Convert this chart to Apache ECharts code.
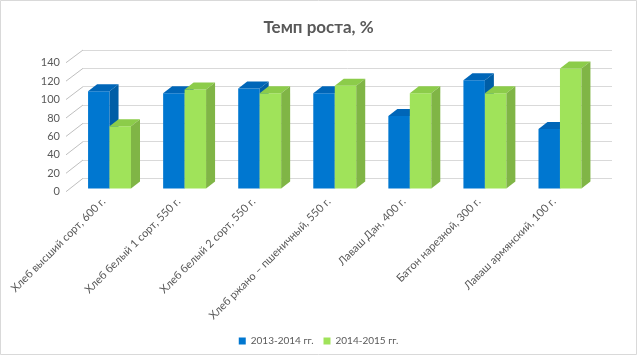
<!DOCTYPE html>
<html>
<head>
<meta charset="utf-8">
<script src="https://cdn.jsdelivr.net/npm/echarts@6/dist/echarts.min.js"></script>
<style>html,body{margin:0;padding:0;background:#fff}#c{width:637px;height:355px}</style>
</head>
<body>
<div id="c"></div>
<script>
const categories = [
  'Хлеб высший сорт, 600 г.',
  'Хлеб белый 1 сорт, 550 г.',
  'Хлеб белый 2 сорт, 550 г.',
  'Хлеб ржано – пшеничный, 550 г.',
  'Лаваш Дан, 400 г.',
  'Батон нарезной, 300 г.',
  'Лаваш армянский, 100 г.'
];
const seriesNames = ['2013-2014 гг.', '2014-2015 гг.'];
const values2013 = [106, 104, 109, 104, 79, 118, 65];
const values2014 = [68, 108, 104, 112, 104, 104, 131];
const yTicks = [0, 20, 40, 60, 80, 100, 120, 140];

const FONT = 'Lato, "Open Sans", sans-serif';
const TXT = '#595959';
const DX = 9, DY = -7;
const palettes = [
  {front: '#0077d0', top: '#0066b8', side: '#005ea6'},
  {front: '#a0e35a', top: '#8ccc4a', side: '#80b546'}
];

function render3d(idx) {
  return function (params, api) {
    const cat = api.value(0), v = api.value(1);
    const base = api.coord([cat, 0]);
    const top = api.coord([cat, v]);
    const cw = api.size([1, 0])[0];
    const w = cw * 0.286;
    const x0 = base[0] + (idx === 0 ? -w : 0);
    const by = base[1], ty = top[1];
    const p = palettes[idx];
    return {
      type: 'group',
      children: [
        {type: 'rect', shape: {x: x0, y: ty, width: w, height: by - ty}, style: {fill: p.front}},
        {type: 'polygon', shape: {points: [[x0, ty], [x0 + w, ty], [x0 + w + DX, ty + DY], [x0 + DX, ty + DY]]}, style: {fill: p.top}},
        {type: 'polygon', shape: {points: [[x0 + w, ty], [x0 + w + DX, ty + DY], [x0 + w + DX, by + DY], [x0 + w, by]]}, style: {fill: p.side}}
      ]
    };
  };
}

const chart = echarts.init(document.getElementById('c'), null, {renderer: 'canvas'});
chart.setOption({
  backgroundColor: '#fff',
  animation: false,
  title: {
    text: 'Темп роста, %', left: 'center', top: 14,
    textStyle: {fontFamily: FONT, fontSize: 17, fontWeight: 'bold', color: TXT}
  },
  legend: {
    data: seriesNames, bottom: 4, left: 'center',
    icon: 'rect', itemWidth: 7, itemHeight: 7, itemGap: 10,
    textStyle: {fontFamily: FONT, fontSize: 10, color: TXT}
  },
  grid: [
    {left: 83, right: 25, top: 50, height: 128.3},
    {left: 66, right: 45.5, top: 62.7, height: 129},
    {left: 72, right: 39.5, top: 60.2, height: 128.3}
  ],
  xAxis: [
    {gridIndex: 0, type: 'category', data: categories, show: false},
    {gridIndex: 1, type: 'category', data: categories,
      axisLine: {show: false}, axisTick: {show: false},
      axisLabel: {rotate: 45, interval: 0, margin: 8, fontFamily: FONT, fontSize: 11, color: TXT}},
    {gridIndex: 2, type: 'category', data: categories, show: false}
  ],
  yAxis: [
    {gridIndex: 0, type: 'value', min: 0, max: 140, interval: 20,
      axisLabel: {show: false}, axisLine: {show: false}, axisTick: {show: false},
      splitLine: {lineStyle: {color: '#d9d9d9', width: 1}}},
    {gridIndex: 1, type: 'value', min: 0, max: 140, interval: 20,
      axisLine: {show: false}, axisTick: {show: false}, splitLine: {show: false},
      axisLabel: {margin: 6, fontFamily: FONT, fontSize: 11, color: TXT}},
    {gridIndex: 2, type: 'value', min: 0, max: 140, interval: 20, show: false, splitLine: {show: false}}
  ],
  series: [
    {
      type: 'custom', name: seriesNames[0], xAxisIndex: 2, yAxisIndex: 2,
      itemStyle: {color: palettes[0].front},
      data: values2013.map((v, i) => [i, v]),
      renderItem: render3d(0)
    },
    {
      type: 'custom', name: seriesNames[1], xAxisIndex: 2, yAxisIndex: 2,
      itemStyle: {color: palettes[1].front},
      data: values2014.map((v, i) => [i, v]),
      renderItem: render3d(1)
    }
  ]
});

// Border plus slanted depth ticks (front axis -> back wall), positioned through the grids' scales
const graphics = [{
  type: 'rect', shape: {x: 0.5, y: 0.5, width: 636, height: 354},
  style: {fill: 'none', stroke: '#d9d9d9', lineWidth: 1}, silent: true
}];
try {
  yTicks.forEach(v => {
    const f0 = chart.convertToPixel({gridIndex: 1}, [0, v]);
    const f1 = chart.convertToPixel({gridIndex: 1}, [1, v]);
    const b0 = chart.convertToPixel({gridIndex: 0}, [0, v]);
    const b1 = chart.convertToPixel({gridIndex: 0}, [1, v]);
    const xf = f0[0] - (f1[0] - f0[0]) / 2;
    const xb = b0[0] - (b1[0] - b0[0]) / 2;
    if ([xf, xb, f0[1], b0[1]].every(isFinite)) {
      graphics.push({type: 'line', silent: true, z: 100,
        shape: {x1: xf, y1: f0[1], x2: xb, y2: b0[1]},
        style: {stroke: '#bfbfbf', lineWidth: 1}});
    }
  });
} catch (e) { console.error(e); }
chart.setOption({graphic: graphics});
</script>
</body>
</html>
